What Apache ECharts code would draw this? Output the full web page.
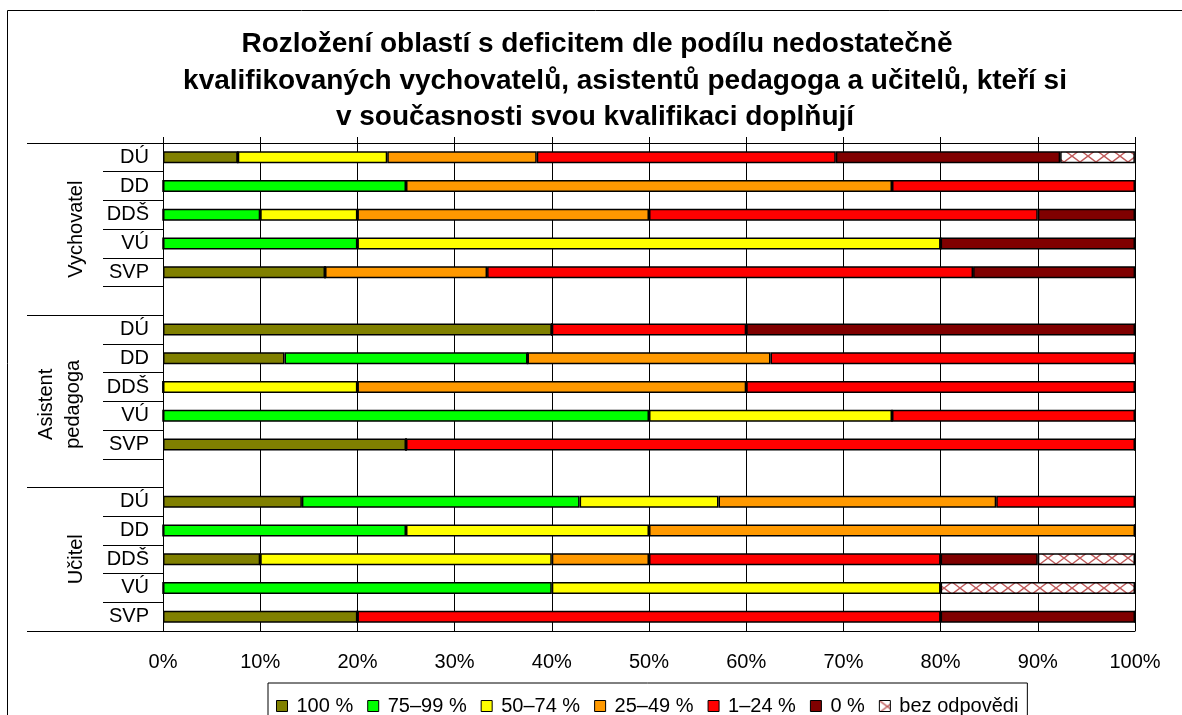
<!DOCTYPE html>
<html>
<head>
<meta charset="utf-8">
<script src="https://cdn.jsdelivr.net/npm/echarts@6/dist/echarts.min.js"></script>
<style>
  html, body { margin: 0; padding: 0; background: #fff; }
  #chart { width: 1182px; height: 715px; }
</style>
</head>
<body>
<div id="chart"></div>
<script>
// řádky odshora dolů (3 skupiny, prázdný řádek mezi nimi)
var categories = ['DÚ', 'DD', 'DDŠ', 'VÚ', 'SVP', '',
                  'DÚ', 'DD', 'DDŠ', 'VÚ', 'SVP', '',
                  'DÚ', 'DD', 'DDŠ', 'VÚ', 'SVP'];
var groups = ['Vychovatel', 'Asistent\npedagoga', 'Učitel'];
var xTicks = [0, 10, 20, 30, 40, 50, 60, 70, 80, 90, 100];
var titleLines = ['Rozložení oblastí s deficitem dle podílu nedostatečně',
                  'kvalifikovaných vychovatelů, asistentů pedagoga a učitelů, kteří si',
                  'v současnosti svou kvalifikaci doplňují'];

var seriesNames = ['100 %', '75–99 %', '50–74 %', '25–49 %', '1–24 %', '0 %', 'bez odpovědi'];
var p100  = [7.69, 0, 0, 0, 16.67, null, 40, 12.5, 0, 0, 25, null, 14.29, 0, 10, 0, 20];
var p75   = [0, 25, 10, 20, 0, null, 0, 25, 0, 50, 0, null, 28.57, 25, 0, 40, 0];
var p50   = [15.38, 0, 10, 60, 0, null, 0, 0, 20, 25, 0, null, 14.29, 25, 30, 40, 0];
var p25   = [15.38, 50, 30, 0, 16.67, null, 0, 25, 40, 0, 0, null, 28.57, 50, 10, 0, 0];
var p1    = [30.77, 25, 40, 0, 50, null, 20, 37.5, 40, 25, 75, null, 14.29, 0, 30, 0, 60];
var p0    = [23.08, 0, 10, 20, 16.67, null, 40, 0, 0, 0, 0, null, 0, 0, 10, 0, 20];
var pNone = [7.69, 0, 0, 0, 0, null, 0, 0, 0, 0, 0, null, 0, 0, 10, 20, 0];

var FONT = 'Liberation Sans, Arial, sans-serif';

// šrafování pro "bez odpovědi"
var hatch = document.createElement('canvas');
hatch.width = 16;
hatch.height = 12;
var hc = hatch.getContext('2d');
hc.fillStyle = '#fff';
hc.fillRect(0, 0, 16, 12);
hc.strokeStyle = '#c05a5a';
hc.lineWidth = 1.4;
hc.beginPath();
hc.moveTo(0, 0); hc.lineTo(16, 12);
hc.moveTo(16, 0); hc.lineTo(0, 12);
hc.stroke();

var colors = ['#808000', '#00ff00', '#ffff00', '#ff9900', '#ff0000', '#800000',
              { image: hatch, repeat: 'repeat' }];
var values = [p100, p75, p50, p25, p1, p0, pNone];

var myChart = echarts.init(document.getElementById('chart'));

var series = [];
for (var i = 0; i < seriesNames.length; i++) {
  series.push({
    name: seriesNames[i],
    type: 'bar',
    stack: 'all',
    barWidth: 12,
    data: values[i],
    itemStyle: { color: colors[i], borderColor: '#000', borderWidth: 1.5 },
    emphasis: { disabled: true }
  });
}

// titulek po řádcích (každý řádek má v originále trochu jiný střed)
var titleCenters = [597, 625, 595];
var titleTops = [26, 63, 99];
var titles = [];
for (var t = 0; t < titleLines.length; t++) {
  titles.push({
    text: titleLines[t],
    left: titleCenters[t],
    top: titleTops[t],
    padding: 0,
    textAlign: 'center',
    textStyle: { fontFamily: FONT, fontSize: 28, fontWeight: 'bold', lineHeight: 37, color: '#000' }
  });
}

var option = {
  animation: false,
  textStyle: { fontFamily: FONT, color: '#000' },
  title: titles,
  legend: {
    data: seriesNames,
    left: 268,
    top: 683,
    icon: 'rect',
    itemWidth: 11,
    itemHeight: 11,
    itemGap: 14,
    padding: [13, 9, 30, 8],
    borderColor: '#000',
    borderWidth: 1,
    itemStyle: { borderColor: '#000', borderWidth: 1 },
    textStyle: { fontFamily: FONT, fontSize: 20, color: '#000', padding: [0, 0, 0, 4] }
  },
  grid: { left: 163, right: 47, top: 143, bottom: 84 },
  xAxis: [{
    type: 'value',
    min: xTicks[0],
    max: xTicks[xTicks.length - 1],
    interval: 10,
    axisLine: { show: true, lineStyle: { color: '#000', width: 1 } },
    axisTick: { show: false },
    axisLabel: { formatter: '{value}%', fontFamily: FONT, fontSize: 20, color: '#000', margin: 21 },
    splitLine: { show: true, lineStyle: { color: '#000', width: 1 } }
  }, {
    type: 'value',
    position: 'top',
    min: xTicks[0],
    max: xTicks[xTicks.length - 1],
    interval: 10,
    axisLine: { show: true, lineStyle: { color: '#000', width: 1 } },
    axisTick: { show: true, length: 6, lineStyle: { color: '#000' } },
    axisLabel: { show: false },
    splitLine: { show: false }
  }],
  yAxis: {
    type: 'category',
    inverse: true,
    data: categories,
    axisLine: { show: true, lineStyle: { color: '#000', width: 1 } },
    axisTick: { show: true, length: 60, lineStyle: { color: '#000' } },
    axisLabel: { fontFamily: FONT, fontSize: 20, color: '#000', margin: 14 },
    splitLine: { show: false }
  },
  series: series
};

myChart.setOption(option);

// dlouhé oddělovače skupin + svislé popisky skupin
var c0 = myChart.convertToPixel({ yAxisIndex: 0 }, 0);
var band = myChart.convertToPixel({ yAxisIndex: 0 }, 1) - c0;
var bounds = [-0.5, 5.5, 11.5, 16.5];
var graphics = [{
  type: 'rect',
  shape: { x: 7.5, y: 10.5, width: 1300, height: 800 },
  style: { fill: 'none', stroke: '#000', lineWidth: 1 },
  silent: true
}];
for (var b = 0; b < bounds.length; b++) {
  var yy = Math.round(c0 + bounds[b] * band) + 0.5;
  graphics.push({
    type: 'line',
    shape: { x1: 27, y1: yy, x2: 163, y2: yy },
    style: { stroke: '#000', lineWidth: 1 },
    silent: true
  });
}
var labelX = [76, 60, 76];
for (var g = 0; g < groups.length; g++) {
  var yc = c0 + ((bounds[g] + bounds[g + 1]) / 2) * band;
  if (g === 1) yc += 3;
  graphics.push({
    type: 'text',
    x: labelX[g],
    y: yc,
    rotation: Math.PI / 2,
    silent: true,
    style: {
      text: groups[g],
      font: '20px ' + FONT,
      fill: '#000',
      align: 'center',
      verticalAlign: 'middle',
      lineHeight: 27
    }
  });
}
myChart.setOption({ graphic: graphics });

window.addEventListener('resize', function () {
  myChart.resize();
});
</script>
</body>
</html>
